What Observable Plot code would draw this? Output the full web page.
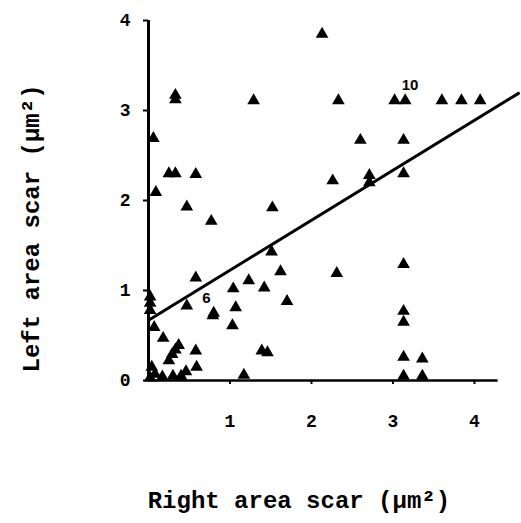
<!DOCTYPE html>
<html>
<head>
<meta charset="utf-8">
<script src="https://cdn.jsdelivr.net/npm/d3@7"></script>
<script src="https://cdn.jsdelivr.net/npm/@observablehq/plot@0.6"></script>
<style>
  html, body { margin: 0; padding: 0; background: #fff; }
</style>
</head>
<body>
<div id="chart"></div>
<script>
// Right area scar (x) and Left area scar (y), µm²
const rightArea = [
  2.13, 0.33, 0.33, 1.29, 2.33, 3.02, 3.15, 3.60, 3.84, 4.07,
  2.60, 3.13, 2.26, 2.71, 2.71, 3.13, 0.06, 0.25, 0.33, 0.58,
  0.09, 0.47, 0.77, 1.52, 1.51, 1.62, 2.31, 1.23, 1.04, 1.42,
  1.70, 1.07, 0.80, 0.79, 0.47, 0.58, 1.03, 1.39, 1.46, 1.17,
  3.13, 3.13, 3.13, 3.13, 3.36, 3.13, 3.36,
  0.02, 0.02, 0.02, 0.07, 0.18, 0.37, 0.33, 0.29, 0.58, 0.25,
  0.59, 0.04, 0.08, 0.17, 0.30, 0.40, 0.46, 0.02
];
const leftArea = [
  3.85, 3.12, 3.17, 3.11, 3.11, 3.11, 3.11, 3.11, 3.11, 3.11,
  2.67, 2.67, 2.22, 2.20, 2.28, 2.30, 2.69, 2.30, 2.30, 2.29,
  2.09, 1.93, 1.77, 1.92, 1.43, 1.21, 1.19, 1.11, 1.02, 1.03,
  0.88, 0.81, 0.75, 0.72, 0.83, 1.14, 0.61, 0.33, 0.31, 0.06,
  1.29, 0.77, 0.65, 0.26, 0.24, 0.05, 0.05,
  0.93, 0.86, 0.78, 0.59, 0.47, 0.39, 0.34, 0.29, 0.33, 0.22,
  0.15, 0.15, 0.07, 0.04, 0.05, 0.05, 0.10, 0.03
];
// Regression line end points
const fitX = [0, 4.54];
const fitY = [0.67, 3.19];
// Point annotations (counts of overlapping cases)
const noteX = [0.71, 3.21];
const noteY = [0.91, 3.28];
const noteText = ["6", "10"];
// Tick labels
const xTicks = [1, 2, 3, 4];
const yTicks = [0, 1, 2, 3, 4];
const xAxisEnd = 4.29;

const points = rightArea.map((x, i) => ({x, y: leftArea[i]}));
const fit = fitX.map((x, i) => ({x, y: fitY[i]}));
const notes = noteX.map((x, i) => ({x, y: noteY[i], t: noteText[i]}));

const mono = "'Liberation Mono', 'DejaVu Sans Mono', monospace";

const chart = Plot.plot({
  width: 521,
  height: 523,
  marginLeft: 148,
  marginRight: 2.2,
  marginTop: 20,
  marginBottom: 143,
  x: {domain: [0, 4.55]},
  y: {domain: [0, 4]},
  style: {fontFamily: mono, fontWeight: "bold", fontSize: "17px", background: "#fff", color: "#000"},
  marks: [
    Plot.axisX({ticks: xTicks, tickFormat: d => String(d), tickSize: 4, tickPadding: 30, strokeWidth: 2, label: null, fontSize: 18, fontWeight: "bold"}),
    Plot.axisY({ticks: yTicks, tickFormat: d => String(d), tickSize: 5, tickPadding: 13, strokeWidth: 2, label: null, fontSize: 18, fontWeight: "bold"}),
    Plot.ruleX([0], {y1: 0, y2: 4, strokeWidth: 3}),
    Plot.ruleY([0], {x1: 0, x2: xAxisEnd, strokeWidth: 2.5}),
    Plot.line(fit, {x: "x", y: "y", strokeWidth: 3, stroke: "#000"}),
    Plot.dot(points, {x: "x", y: "y", symbol: "triangle", r: 4.7, fill: "#000", stroke: "none"}),
    Plot.text(notes, {x: "x", y: "y", text: "t", fontSize: 15, fontWeight: "bold", fontFamily: "'Liberation Sans', Arial, sans-serif", fill: "#000"}),
    Plot.text(["Right area scar (μm²)"], {frameAnchor: "bottom", dy: 127, dx: -35, textAnchor: "middle", fontSize: 24, fontWeight: "bold", fontFamily: mono, fill: "#000"}),
    Plot.text(["Left area scar (μm²)"], {frameAnchor: "left", dx: -117, dy: 28, rotate: -90, textAnchor: "middle", fontSize: 24, fontWeight: "bold", fontFamily: mono, fill: "#000"})
  ]
});
document.getElementById("chart").appendChild(chart);
</script>
</body>
</html>
